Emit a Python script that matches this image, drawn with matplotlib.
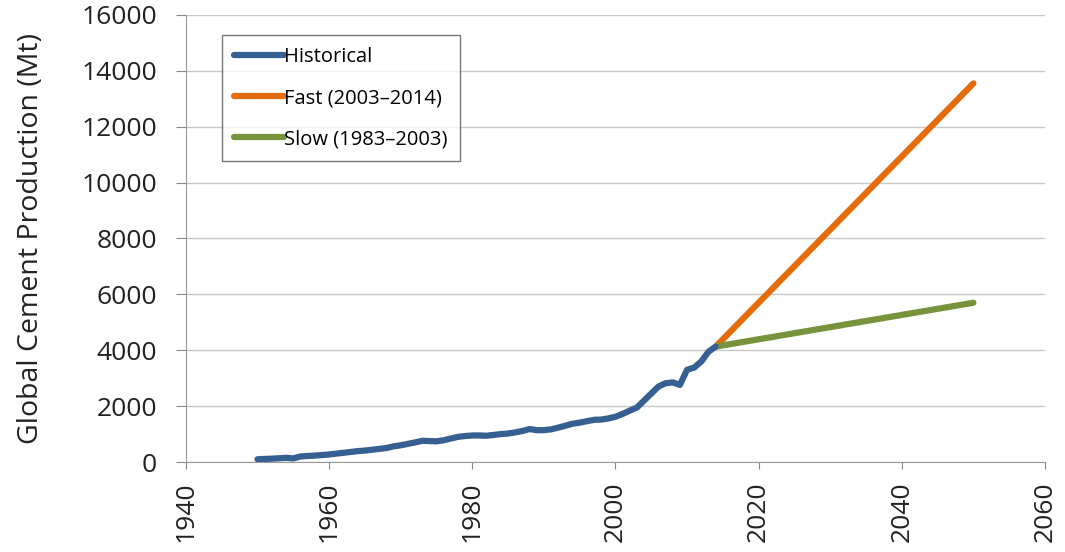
import matplotlib
matplotlib.use("Agg")
import matplotlib.pyplot as plt

# historical global cement production (Mt)
hist_years = list(range(1950, 2015))
hist_values = [100, 110, 120, 135, 150, 130, 200, 215, 230, 250,
               270, 300, 330, 360, 390, 410, 440, 470, 500, 560,
               600, 650, 700, 760, 750, 740, 780, 840, 900, 930,
               950, 950, 940, 970, 1000, 1020, 1060, 1110, 1180, 1140,
               1140, 1170, 1230, 1300, 1370, 1410, 1460, 1510, 1520, 1560,
               1620, 1720, 1840, 1950, 2200, 2450, 2700, 2820, 2850, 2760,
               3300, 3380, 3600, 3950, 4130]

# projections
proj_years = [2014, 2050]
fast_values = [4130, 13550]
slow_values = [4130, 5700]

labels = ['Historical', 'Fast (2003\u20132014)', 'Slow (1983\u20132003)']
colors = ['#376092', '#E46C0A', '#77933C']

plt.rcParams['font.family'] = ['Open Sans', 'DejaVu Sans']

fig = plt.figure(figsize=(10.65, 5.52), dpi=100)
ax = fig.add_axes([0.1746, 0.163, 0.8066, 0.810])

ax.plot(hist_years, hist_values, color=colors[0], lw=4.5, label=labels[0],
        solid_capstyle='round', zorder=3)
ax.plot(proj_years, fast_values, color=colors[1], lw=4.5, label=labels[1],
        solid_capstyle='round', zorder=2)
ax.plot(proj_years, slow_values, color=colors[2], lw=4.5, label=labels[2],
        solid_capstyle='round', zorder=2)

ax.set_xlim(1940, 2060)
ax.set_ylim(0, 16000)
ax.set_xticks(range(1940, 2061, 20))
ax.set_yticks(range(0, 16001, 2000))
ax.tick_params(axis='x', labelrotation=90, labelsize=19, colors='#888888',
               labelcolor='#222222', length=5, pad=9)
ax.tick_params(axis='y', labelsize=19, colors='#888888',
               labelcolor='#222222', length=7, pad=14)

ax.grid(axis='y', color='#c8c8c8', lw=1)
ax.set_axisbelow(True)
for s in ['top', 'right']:
    ax.spines[s].set_visible(False)
for s in ['left', 'bottom']:
    ax.spines[s].set_color('#999999')

ax.set_ylabel('Global Cement Production (Mt)', fontsize=20.5, color='#222222',
              labelpad=26)

leg = ax.legend(loc='upper left', bbox_to_anchor=(0.042, 0.955), fontsize=14.5,
                frameon=True, fancybox=False, edgecolor='#555555',
                handlelength=2.5, handletextpad=0.0, labelspacing=1.05,
                borderpad=0.6, borderaxespad=0)
leg.get_frame().set_linewidth(1.0)

fig.savefig('out.png', dpi=100)
